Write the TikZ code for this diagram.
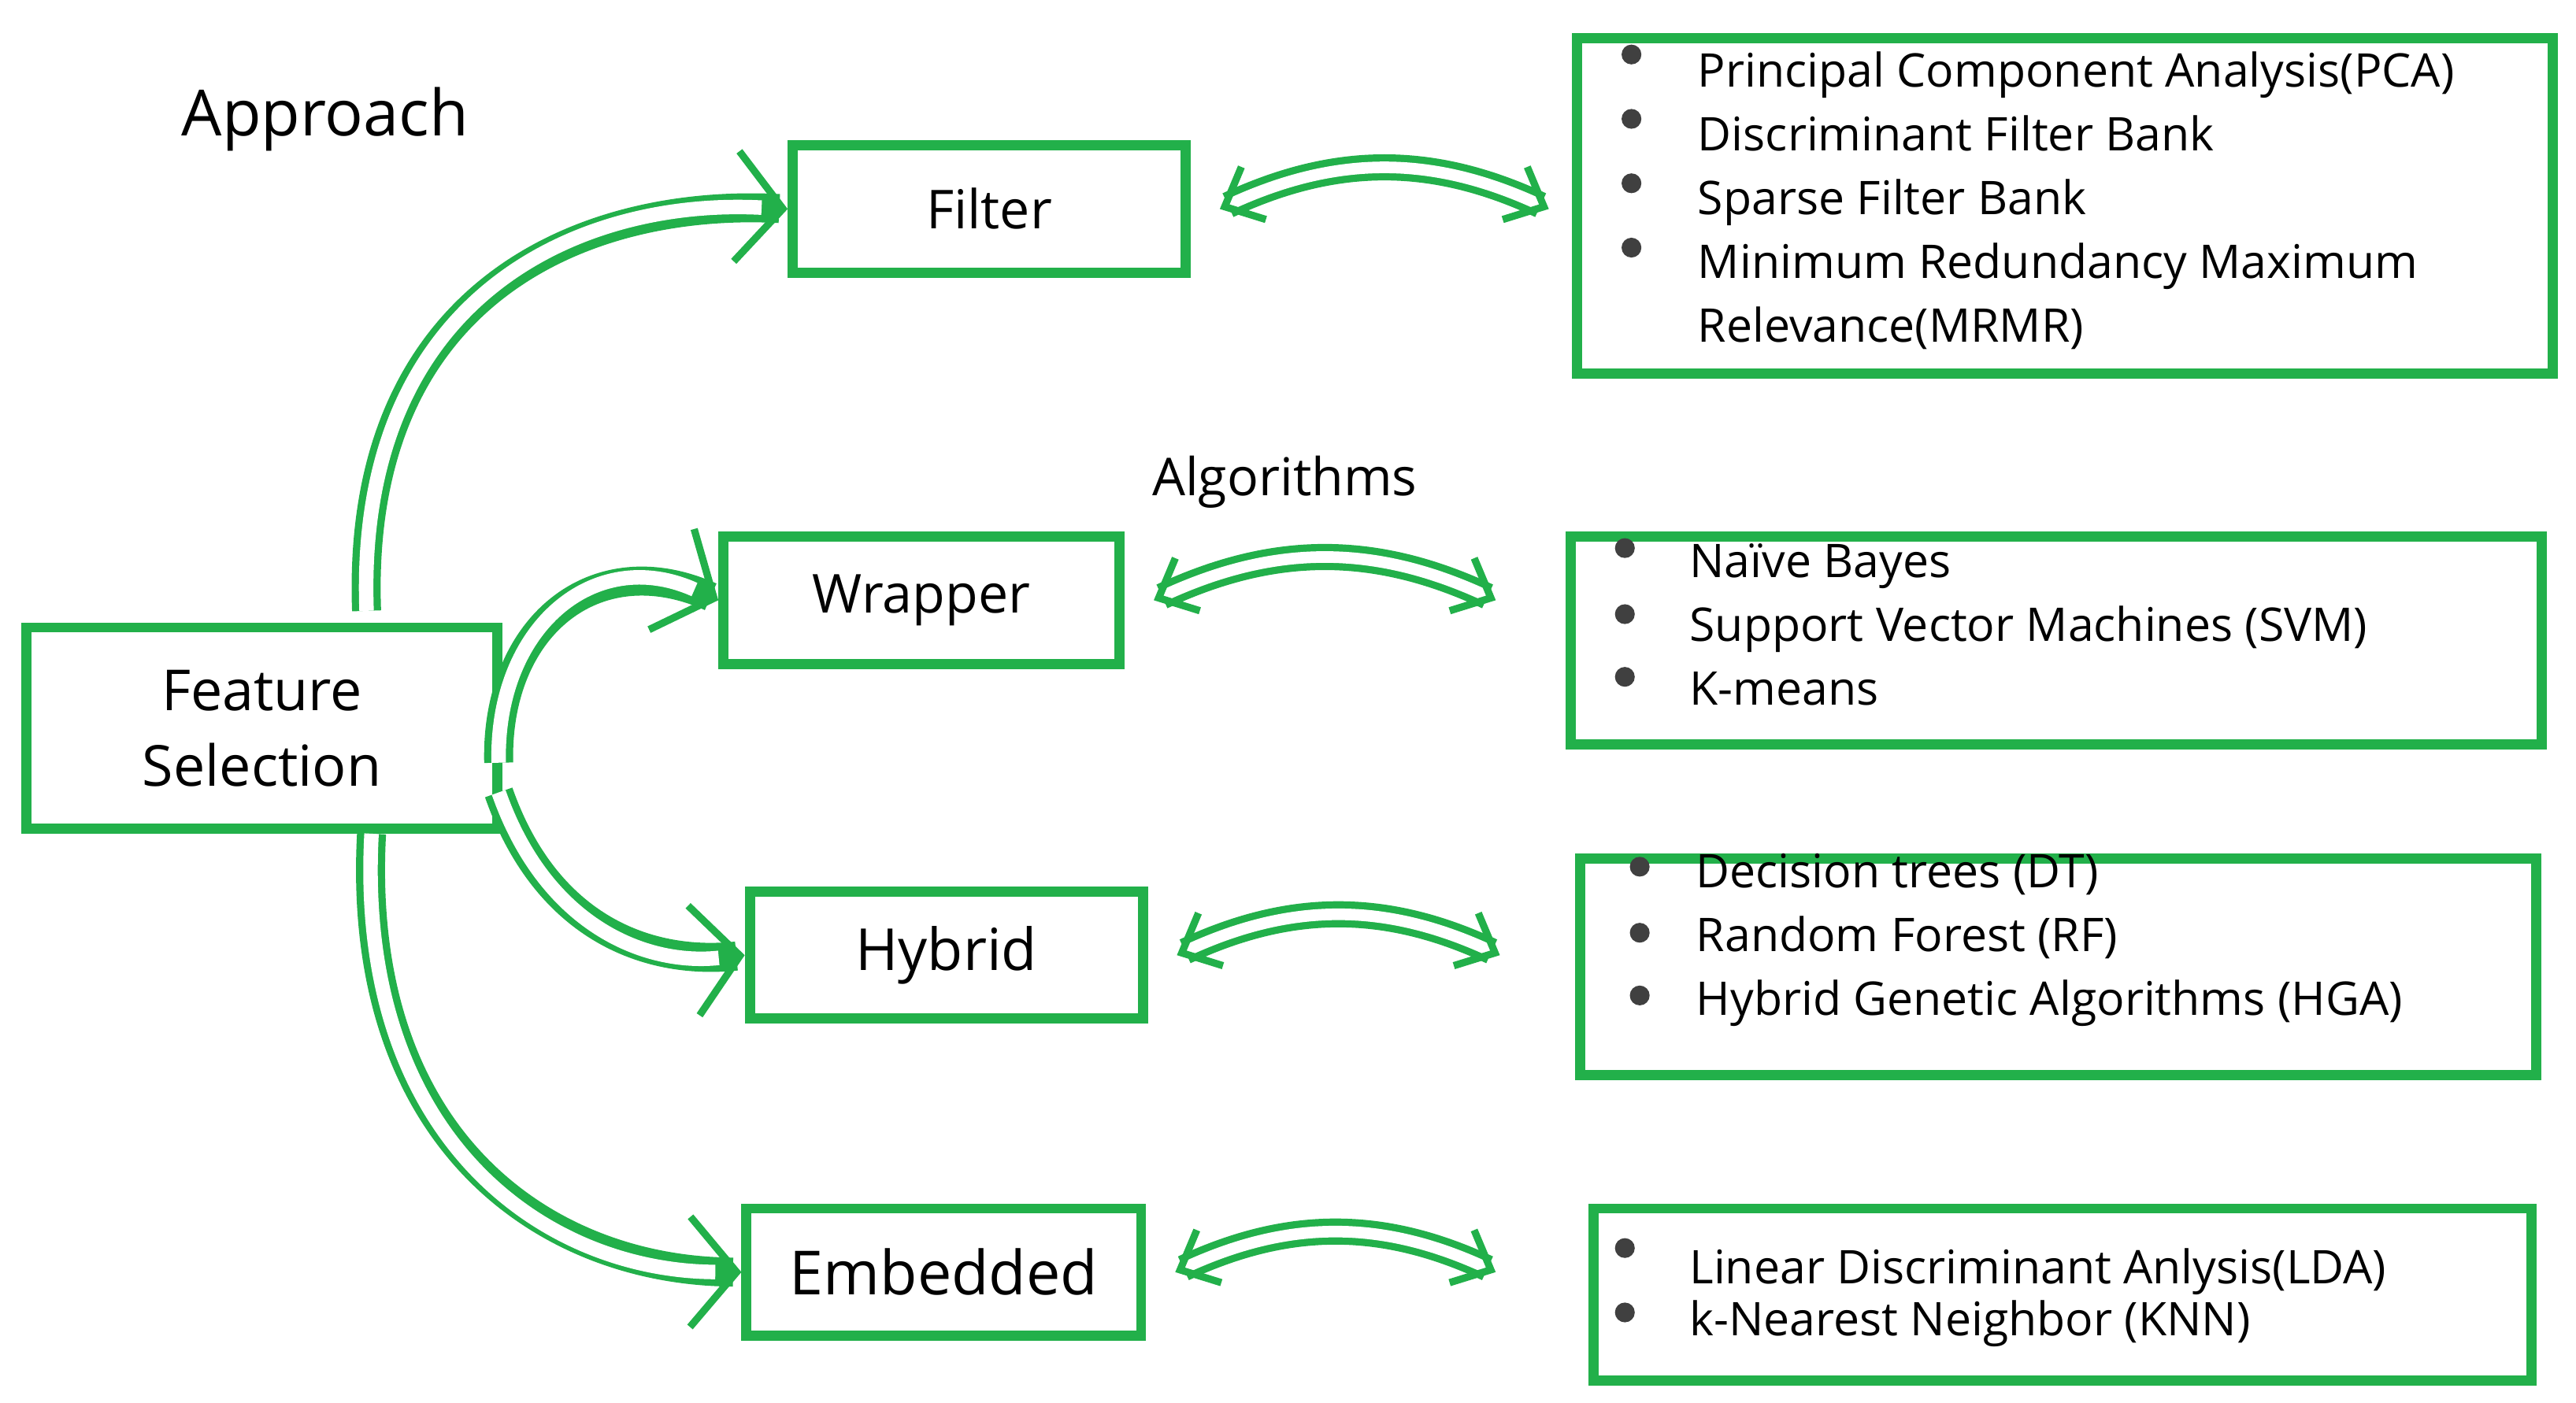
\documentclass[tikz,border=0pt]{standalone}
\usepackage{fontspec}
\setmainfont{Open Sans}
\usetikzlibrary{arrows.meta}
\definecolor{g}{HTML}{22B04A}
\begin{document}
\begin{tikzpicture}[x=0.02cm,y=-0.02cm,
 box/.style={draw=g,line width=3.5pt,inner sep=0pt,anchor=north west},
 lab/.style={font=\fontsize{18.5}{25}\selectfont},
 lst/.style={font=\fontsize{16}{22}\selectfont,align=left,anchor=north west},
 hol/.style={draw=g,line width=10pt,-{Straight Barb[length=16pt,width=38pt,line width=2.5pt]}},
 holin/.style={draw=white,line width=5pt,shorten >=9pt},
 dbl/.style={draw=g,line width=2.5pt,double=white,double distance=4pt,{Straight Barb[length=11pt,width=20pt]}-{Straight Barb[length=11pt,width=20pt]}}]
\useasboundingbox (0,0) rectangle (1560,849.4);
\node[box,minimum width=285*0.02cm,minimum height=122*0.02cm] (fs) at (13,377) {};
\node[lab,align=center,font=\fontsize{19.5}{26}\selectfont] at (fs.center) {Feature\\Selection};
\node[box,minimum width=238*0.02cm,minimum height=77*0.02cm] (f) at (477,85) {};
\node[lab] at (f.center) {Filter};
\node[box,minimum width=240*0.02cm,minimum height=77*0.02cm] (w) at (435,322) {};
\node[lab] at (w.center) {Wrapper};
\node[box,minimum width=238*0.02cm,minimum height=77*0.02cm] (h) at (451,537) {};
\node[lab,font=\fontsize{20}{24}\selectfont] at (h.center) {Hybrid};
\node[box,minimum width=239*0.02cm,minimum height=77*0.02cm] (e) at (449,729) {};
\node[lab,font=\fontsize{21}{24}\selectfont] at (e.center) {Embedded};
\node[box,minimum width=591*0.02cm,minimum height=203*0.02cm] (b1) at (952,20) {};
\node[box,minimum width=588*0.02cm,minimum height=126*0.02cm] (b2) at (948,322) {};
\node[box,minimum width=579*0.02cm,minimum height=131*0.02cm] (b3) at (954,517) {};
\node[box,minimum width=568*0.02cm,minimum height=104*0.02cm] (b4) at (962,729) {};
\node[lst] (t1) at (1022,25) {Principal Component Analysis(PCA)\\Discriminant Filter Bank\\Sparse Filter Bank\\Minimum Redundancy Maximum\\Relevance(MRMR)};
\foreach \y in {33,72,111,150} \fill[black!75] (988,\y) circle (6);
\node[lst] (t2) at (1017,323) {Naïve Bayes\\Support Vector Machines (SVM)\\K-means};
\foreach \y in {332,372,410} \fill[black!75] (984,\y) circle (6);
\node[lst] (t3) at (1021,511) {Decision trees (DT)\\Random Forest (RF)\\Hybrid Genetic Algorithms (HGA)};
\foreach \y in {525,565,603} \fill[black!75] (993,\y) circle (6);
\node[lst,font=\fontsize{16}{18}\selectfont] (t4) at (1017,750) {Linear Discriminant Anlysis(LDA)\\k-Nearest Neighbor (KNN)};
\foreach \y in {756,795} \fill[black!75] (984,\y) circle (6);
\node[font=\fontsize{22}{26}\selectfont] (ap) at (197,72) {Approach};
\node[font=\fontsize{18}{22}\selectfont] (al) at (778,292) {Algorithms};
% hollow arrows
\coordinate (a1) at (222,370); \coordinate (a2) at (302,462);
\coordinate (a3) at (302,480); \coordinate (a4) at (225,505);
\foreach \s/\t/\c in {a1/f.west/{(215,180) and (350,120)}, a2/w.west/{(300,380) and (360,330)}, a3/h.west/{(330,560) and (390,585)}, a4/e.west/{(215,690) and (330,770)}}{
 \draw[hol] (\s) .. controls \c .. (\t);
 \draw[holin] (\s) .. controls \c .. (\t);
}
\draw[dbl] ([xshift=10pt]f.east) to[bend left=25] ([xshift=-8pt]b1.west|-f.east);
\draw[dbl] ([xshift=10pt]w.east) to[bend left=25] ([xshift=-24pt]b2.west|-w.east);
\draw[dbl] ([xshift=10pt]h.east) to[bend left=25] ([xshift=-26pt]b3.west|-h.east);
\draw[dbl] ([xshift=10pt]e.east) to[bend left=25] ([xshift=-32pt]b4.west|-e.east);
\end{tikzpicture}
\end{document}
